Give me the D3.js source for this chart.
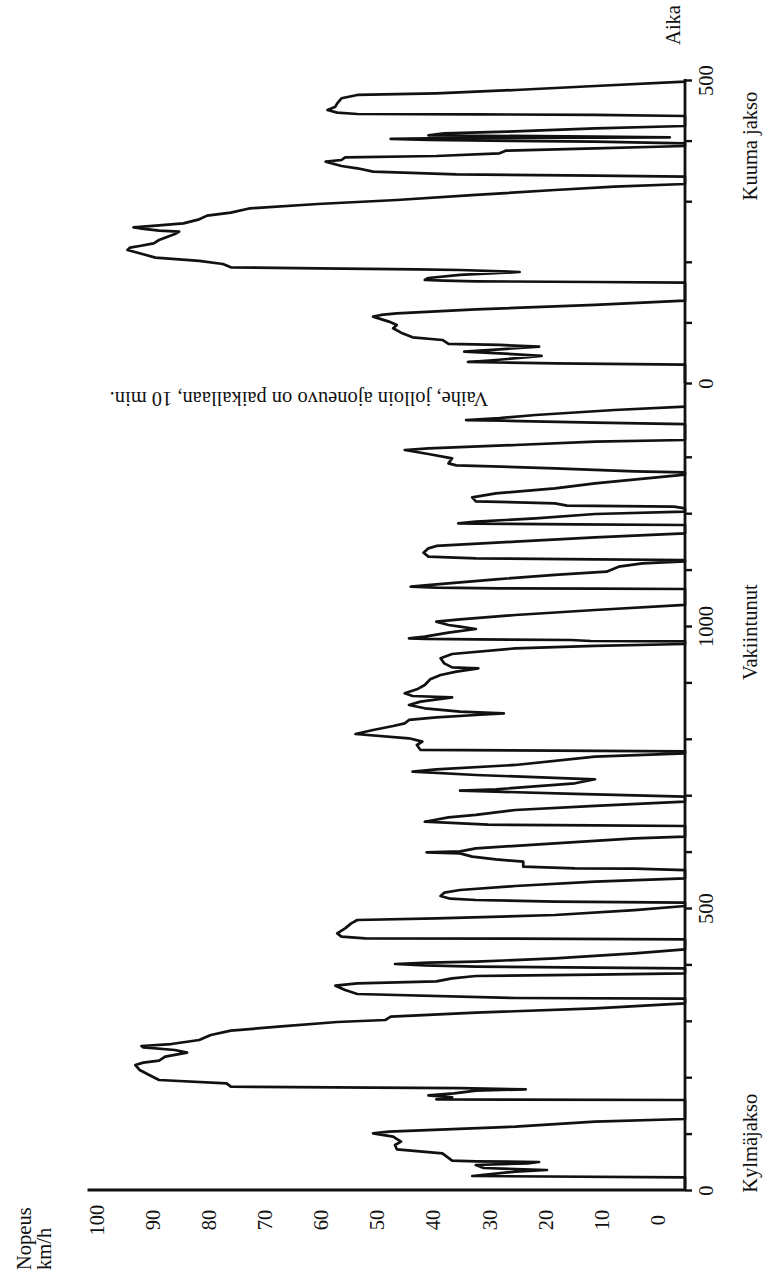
<!DOCTYPE html>
<html>
<head>
<meta charset="utf-8">
<script src="https://cdn.jsdelivr.net/npm/d3@7"></script>
<style>
  body { margin: 0; background: #fff; }
  svg text { font-family: "Liberation Serif", "DejaVu Serif", serif; font-size: 20.5px; fill: #111; }
  .trace { fill: none; stroke: #111; stroke-width: 2.7; stroke-linejoin: round; }
  .axis-line { stroke: #111; stroke-width: 2.8; }
  .axis .domain { display: none; }
  .axis line { stroke: #111; stroke-width: 2.4; }
</style>
</head>
<body>
<div id="chart"></div>
<script>
// cold start + stabilised phase: [time s, speed km/h]
const coldPhase = [
  [3,0],[22.4,0],[24.8,35],[32.5,27.9],[35.5,22.7],[39,33.1],[44.3,34.4],[47.3,25.9],[49.6,24],[50.8,34.4],[52,38.3],[65,39.9],[72.1,47.4],[79.8,47.7],[85.7,46.7],[94.5,48],[100.5,51.3],[103.4,48.7],[112.3,27.9],[121.1,14.8],[125.9,0],
  [159.6,0],[160.7,40.9],[164.3,38.3],[167.8,42.2],[171.4,38],[176.1,34.4],[178.5,26.2],[180.8,37],[181.4,51.3],[183.2,74.7],[189.1,75.4],[195,86.5],[202.1,87.8],[212.8,89.7],[221.6,90.4],[225.8,89.1],[229.3,86.5],[236.4,85.5],[243.5,81.9],[248.2,83.9],[252.9,89.1],[255.3,89.4],[258.8,84.5],[265.9,79.9],[274.8,78],[282.5,74.7],[289.6,66.9],[297.9,57.2],[301.4,49.3],[307.3,48.4],[314.4,34.4],[322.1,14.8],[330.8,0],
  [339.2,0],[340.4,27.9],[347.5,53.9],[354.6,55.9],[362.3,57.5],[366.4,53.9],[370,40.9],[375.3,38.3],[379.4,34.4],[381.8,14.8],[384.2,0],
  [393,0],[394.2,14.8],[396,34.4],[398.3,42.8],[400.7,47.7],[403,42.2],[404.8,34.4],[410.7,21.4],[419.6,8.3],[426.7,0],
  [444.4,0],[445.6,27.9],[446.2,52.6],[449.2,56.5],[455.1,57.2],[463.9,55.9],[472.8,54.9],[478.7,53.9],[481.6,40.9],[487.6,21.4],[496.4,8.3],[503.5,0],
  [509.4,0],[511.2,21.4],[514.2,34.4],[516.5,38.6],[521.3,40.2],[527.2,39.6],[531.9,37],[539,27.9],[546.7,14.8],[552.6,0],
  [567.3,0],[569.7,8.3],[570.3,18.1],[573.3,26.6],[582.1,26.6],[586.3,31.1],[591,35],[596.9,37],[598.7,42.5],[600.4,37],[605.8,34.4],[614.6,21.4],[623.5,8.3],[626.4,0],
  [645.4,0],[646.5,14.8],[647.7,32.4],[653,42.8],[660.8,38.9],[665,34.4],[673.8,27.9],[680.9,14.8],[688.6,0],
  [697.4,0],[702.2,18.1],[706.3,31.1],[708.1,37],[710.4,31.1],[721.1,18.1],[728.2,14.8],[735.8,34.4],[741.8,44.8],[745.9,40.9],[753.6,27.9],[768.4,14.8],[774.3,0],
  [777.8,0],[779,21.4],[780.2,43.5],[789,44.1],[794.9,43.2],[800.9,45.4],[808.5,54.2],[815.6,51.3],[822.7,48],[827.4,46.1],[833.4,45.4],[838.1,40.9],[842.2,34.4],[845.2,29.8],[848.2,37],[854.1,42.8],[860,45.4],[865.9,43.5],[873.5,38.3],[875.9,44.8],[880.6,46.1],[887.7,44.1],[895.4,42.8],[905.5,41.9],[913.2,40.2],[919.1,37.6],[925,34],[926.7,38.3],[933.8,39.6],[942.7,40.2],[950.4,38.3],[960.4,27.9],[964.6,14.8],[968.1,0],
  [972.8,0],[973.4,15.5],[975.2,18.7],[976.4,34.4],[977,42.8],[978.2,45.4],[981.1,42.8],[988.2,38.9],[994.7,34.4],[998.8,37],[1001.8,38.9],[1007.7,40.9],[1011.8,37],[1019.5,27.9],[1028.4,14.8],[1037.3,0],
  [1065.6,0],[1066.2,14.8],[1066.8,30.5],[1068,40.9],[1069.8,45.1],[1073.9,40.9],[1082.8,31.1],[1090.5,21.4],[1096.4,12.9],[1105.2,10.9],[1111.1,7],[1114.7,0],
  [1117,0],[1118.2,14.8],[1120,34.4],[1123,42.2],[1130,43],[1137.7,42.2],[1141.9,40.9],[1149.5,27.9],[1157.2,14.8],[1164.3,0],
  [1179.1,0],[1180.3,18.1],[1181.5,34.4],[1182,37.3],[1185,34.4],[1190.9,24.6],[1198.6,14.8],[1202.7,0],
  [1208.6,0],[1211.6,1.8],[1213.4,19.4],[1217.5,21.4],[1221.1,34.4],[1228.1,35],[1235.2,31.1],[1244.1,21.4],[1253,14.8],[1268.3,0],
  [1272.5,0],[1274.2,8.3],[1279.6,21.4],[1284.9,37.6],[1288.4,38.9],[1297.3,38.3],[1305,42.2],[1312.1,46.1],[1315,42.2],[1320.9,27.9],[1326.8,14.8],[1329.8,0],
  [1358.1,0],[1360.5,14.8],[1364,29.8],[1365.2,36],[1368.8,30.5],[1374.1,24.6],[1383,11.6],[1388.9,0]
];

// hot start phase after the 10 min soak: [time s, speed km/h]
const hotPhase = [
  [0,0],[30.3,0],[32.5,21.4],[34.7,35.7],[38,31.1],[44.6,23.6],[49,30.5],[51.8,36.3],[55.6,30.5],[60,24],[62.8,30.5],[64.4,38.9],[71,39.9],[75.4,44.8],[83.1,46.7],[90.3,48],[95.8,47.4],[101.3,48.7],[109.5,51.3],[112.3,50],[115,47.4],[121.6,34.4],[128.8,14.8],[135.9,0],
  [165.6,0],[166.7,14.8],[167.8,34.4],[168.9,39.6],[170,42.8],[173.3,42.2],[178.3,37],[183.2,27.2],[186.5,37],[187.6,44.1],[189.3,60.4],[190.9,74.7],[196.4,76],[201.4,79.9],[206.9,87.1],[212.4,89.1],[219.5,91.7],[223.4,91.3],[226.1,89.7],[230.5,87.4],[236,86.5],[245.9,83.9],[249.8,83.2],[251.4,86.5],[255.3,89.7],[256.9,90.7],[260.2,86.5],[263.5,82.5],[270.1,79.9],[276.2,78.6],[281.1,74.7],[288.3,71.5],[295.4,60.4],[302,47.4],[310.3,34.4],[318.5,21.4],[324,11.6],[328.4,0],
  [340.5,0],[342.2,14.8],[344.4,37.6],[348.8,51.3],[354.3,53.9],[358.1,56.5],[365.3,59.1],[368,56.5],[372.4,55.9],[374.6,40.9],[379,30.5],[383.4,29.5],[387.3,14.8],[391.1,0],
  [395.5,0],[398.3,14.8],[401,42.2],[402.7,48.4],[403.8,42.2],[404.9,14.8],[405.4,2.5],[406.5,14.8],[408.7,42.2],[412,39.6],[414.8,29.2],[420.3,14.8],[424.1,0],
  [440.6,0],[442.3,14.8],[443.4,34.4],[443.9,53.9],[446.1,57.2],[450.5,58.8],[456,57.5],[461.5,57.2],[469.8,56.5],[475.3,53.9],[478,40.9],[483.5,27.9],[490.1,14.8],[497.3,0],[500,0]
];

const coldTicks = [0, 100, 200, 300, 400, 500, 600, 700, 800, 900, 1000, 1100, 1200, 1300];
const coldLabels = [0, 500, 1000];
const hotTicks = [0, 100, 200, 300, 400, 500];
const hotLabels = [0, 500];
const speedTicks = [0, 10, 20, 30, 40, 50, 60, 70, 80, 90, 100];

const phaseNames = ['Kylmäjakso', 'Vakiintunut', 'Kuuma jakso'];
const soakNote = 'Vaihe, jolloin ajoneuvo on paikallaan, 10 min.';

class DriveCycle {

    constructor(_config) {
        this.config = {
            parentElement: _config.parentElement,
            containerWidth: _config.containerWidth || 766,
            containerHeight: _config.containerHeight || 1279
        };
        this.initVis();
    }

    initVis() {
        let vis = this;

        vis.svg = d3.select(vis.config.parentElement)
            .append('svg')
            .attr('width', vis.config.containerWidth)
            .attr('height', vis.config.containerHeight);

        // chart is drawn turned on its side: speed runs right-to-left, time runs upwards
        vis.xScale = d3.scaleLinear().domain([0, 100]).range([685, 77]);
        vis.xLabelScale = d3.scaleLinear().domain([0, 100]).range([658, 96.5]);
        vis.yCold = d3.scaleLinear().domain([0, 1000]).range([1190, 626]);
        vis.yHot = d3.scaleLinear().domain([0, 500]).range([383, 80]);

        vis.updateVis();
    }

    updateVis() {
        let vis = this;

        vis.coldLine = d3.line()
            .x(d => vis.xScale(d[1]))
            .y(d => vis.yCold(d[0]));

        vis.hotLine = d3.line()
            .x(d => vis.xScale(d[1]))
            .y(d => vis.yHot(d[0]));

        vis.renderVis();
    }

    renderVis() {
        let vis = this;
        const x0 = vis.xScale(0);

        // traces
        vis.svg.append('path').attr('class', 'trace').attr('d', vis.coldLine(coldPhase));
        vis.svg.append('path').attr('class', 'trace').attr('d', vis.hotLine(hotPhase));

        // time axis line and speed base line
        vis.svg.append('line').attr('class', 'axis-line')
            .attr('x1', x0).attr('x2', x0)
            .attr('y1', vis.yHot(500) - 1).attr('y2', vis.yCold(0) + 1);
        vis.svg.append('line').attr('class', 'axis-line')
            .attr('x1', vis.xLabelScale(101.6)).attr('x2', x0)
            .attr('y1', vis.yCold(0)).attr('y2', vis.yCold(0));

        // time ticks
        const timeAxis = (scale, ticks, labels) => {
            const g = vis.svg.append('g')
                .attr('class', 'axis')
                .attr('transform', `translate(${x0},0)`)
                .call(d3.axisRight(scale)
                    .tickValues(ticks)
                    .tickSize(7)
                    .tickFormat(d => labels.includes(d) ? d : ''));
            g.selectAll('text')
                .attr('x', null).attr('dy', null)
                .attr('text-anchor', 'middle')
                .attr('transform', 'translate(28,0) rotate(-90)');
        };
        timeAxis(vis.yCold, coldTicks, coldLabels);
        timeAxis(vis.yHot, hotTicks, hotLabels);

        // speed labels under the base line
        const sg = vis.svg.append('g')
            .attr('class', 'axis')
            .attr('transform', 'translate(0,1220)')
            .call(d3.axisBottom(vis.xLabelScale).tickValues(speedTicks).tickSize(0));
        sg.selectAll('line').remove();
        sg.selectAll('text')
            .attr('y', null).attr('dy', null)
            .attr('text-anchor', 'middle')
            .attr('transform', 'translate(6.5,0) rotate(-90)');

        // axis titles
        vis.svg.append('text')
            .attr('text-anchor', 'start')
            .attr('transform', 'translate(31,1270) rotate(-90)')
            .text('Nopeus');
        vis.svg.append('text')
            .attr('text-anchor', 'start')
            .attr('transform', 'translate(51,1270) rotate(-90)')
            .text('km/h');
        vis.svg.append('text')
            .attr('text-anchor', 'middle')
            .attr('transform', `translate(680,${vis.yHot(500) - 55}) rotate(-90)`)
            .text('Aika');

        // phase names
        const phaseY = [vis.yCold(83), vis.yCold(989), vis.yHot(391)];
        vis.svg.selectAll('.phase')
            .data(phaseNames)
            .join('text')
            .attr('class', 'phase')
            .attr('text-anchor', 'middle')
            .attr('transform', (d, i) => `translate(757,${phaseY[i]}) rotate(-90)`)
            .text(d => d);

        // soak note, printed upside down
        vis.svg.append('text')
            .attr('text-anchor', 'middle')
            .attr('transform', `translate(${vis.xScale(63.5)},${vis.yHot(0) + 9}) rotate(180)`)
            .text(soakNote);
    }
}

new DriveCycle({ parentElement: '#chart' });
</script>
</body>
</html>
